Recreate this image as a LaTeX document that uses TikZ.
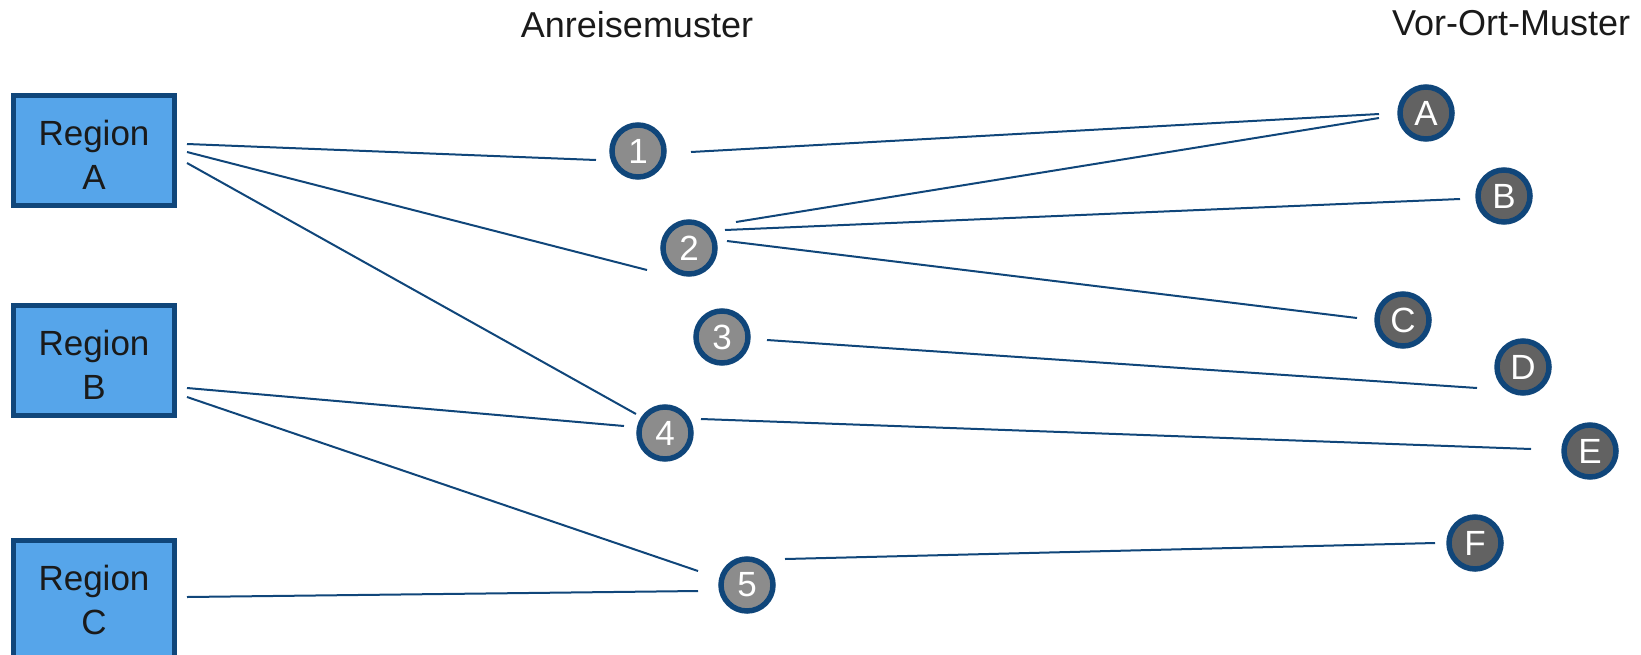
\documentclass[tikz,border=0pt]{standalone}
\usepackage{fontspec}
\setmainfont{Liberation Sans}
\definecolor{edgeblue}{RGB}{16,70,122}
\definecolor{boxfill}{RGB}{86,165,234}
\definecolor{numgray}{RGB}{140,140,140}
\definecolor{letgray}{RGB}{98,98,98}
\definecolor{txt}{RGB}{26,26,26}
\begin{document}
\begin{tikzpicture}[x=1pt,y=-1pt,
  regionbox/.style={draw=edgeblue, fill=boxfill, line width=5pt, minimum width=161pt, minimum height=110pt, inner sep=0pt},
  regiontext/.style={align=center, text=txt, inner sep=0pt, font=\fontsize{35}{44}\selectfont},
  numcirc/.style={circle, draw=edgeblue, fill=numgray, line width=5.5pt, minimum size=52pt, inner sep=0pt, text=white, font=\fontsize{35}{35}\selectfont},
  letcirc/.style={numcirc, fill=letgray},
  link/.style={draw=edgeblue, line width=2pt},
  title/.style={font=\fontsize{36}{36}\selectfont, text=txt, inner sep=0pt}]
\useasboundingbox (0,0) rectangle (1641,654);
\begin{scope}
\clip (0,0) rectangle (1641,654);
\node[regionbox] (rA) at (94,150.5) {};
\node[regionbox] (rB) at (94,360) {};
\node[regionbox, minimum height=130pt] (rC) at (94,605.5) {};
\end{scope}
\node[regiontext] (rAt) at (94,155) {Region\\A};
\node[regiontext] (rBt) at (94,364.5) {Region\\B};
\node[regiontext] (rCt) at (94,599.5) {Region\\C};
\node[title] (t1) at (637,25) {Anreisemuster};
\node[title] (t2) at (1511,23) {Vor-Ort-Muster};
\node[numcirc] (n1) at (638,151) {1};
\node[numcirc] (n2) at (689,248) {2};
\node[numcirc] (n3) at (722,337) {3};
\node[numcirc] (n4) at (665,433) {4};
\node[numcirc] (n5) at (747,585) {5};
\node[letcirc] (mA) at (1426,113) {A};
\node[letcirc] (mB) at (1504,196) {B};
\node[letcirc] (mC) at (1403,320) {C};
\node[letcirc] (mD) at (1523,367) {D};
\node[letcirc] (mE) at (1590,451) {E};
\node[letcirc] (mF) at (1475,543) {F};
% connector end points
\coordinate (a1) at (187,144);   \coordinate (b1) at (596,160);
\coordinate (a2) at (691,152);   \coordinate (b2) at (1379,114);
\coordinate (a3) at (187,152);   \coordinate (b3) at (647,270);
\coordinate (a4) at (187,163);   \coordinate (b4) at (636,414);
\coordinate (a5) at (736,222);   \coordinate (b5) at (1379,118);
\coordinate (a6) at (725,230);   \coordinate (b6) at (1460,199);
\coordinate (a7) at (727,241);   \coordinate (b7) at (1357,318);
\coordinate (a8) at (767,340);   \coordinate (b8) at (1477,388);
\coordinate (a9) at (187,388);   \coordinate (b9) at (624,426);
\coordinate (a10) at (187,397);  \coordinate (b10) at (698,571);
\coordinate (a11) at (701,419);  \coordinate (b11) at (1531,449);
\coordinate (a12) at (187,597);  \coordinate (b12) at (698,591);
\coordinate (a13) at (785,559);  \coordinate (b13) at (1435,543);
\foreach \i in {1,...,13} {\draw[link] (a\i) -- (b\i);}
\end{tikzpicture}
\end{document}
